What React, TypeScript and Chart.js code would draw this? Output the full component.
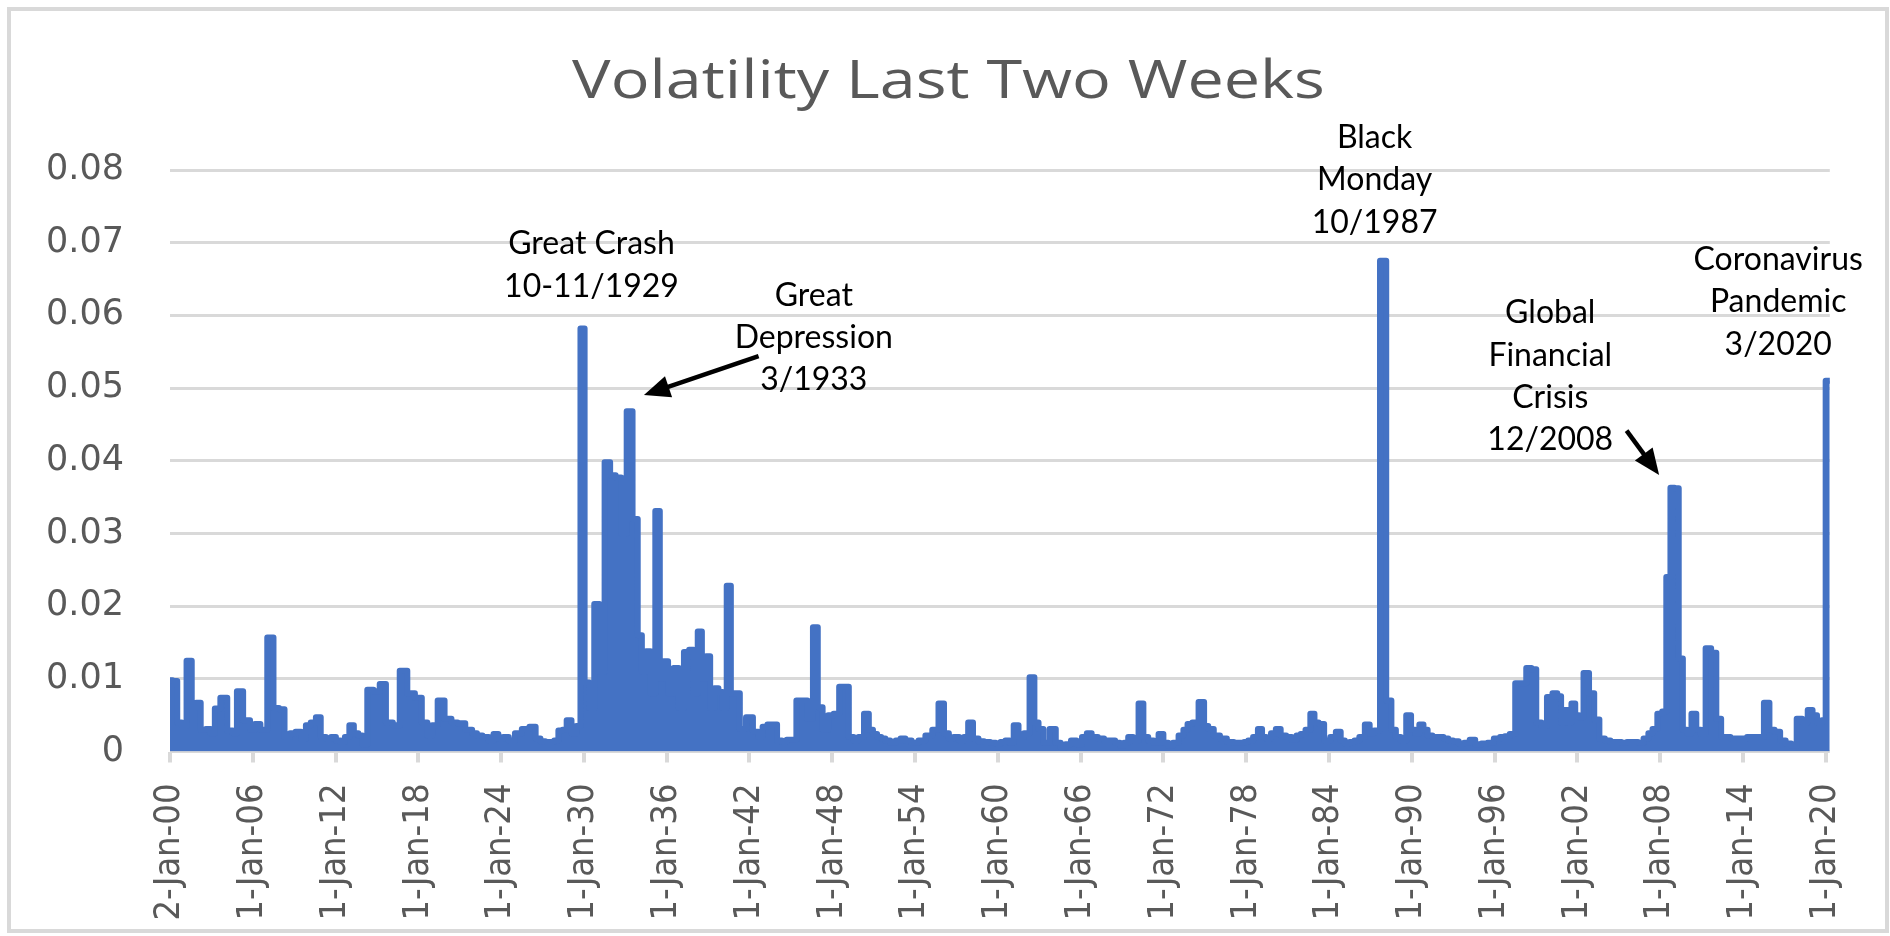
import { useEffect, useRef } from "react";
import { Chart, registerables } from "chart.js";

Chart.register(...registerables);

const TITLE = "Volatility Last Two Weeks";

const tickYears = [1900, 1906, 1912, 1918, 1924, 1930, 1936, 1942, 1948, 1954, 1960, 1966, 1972, 1978, 1984, 1990, 1996, 2002, 2008, 2014, 2020];
const tickLabels = ["2-Jan-00", "1-Jan-06", "1-Jan-12", "1-Jan-18", "1-Jan-24", "1-Jan-30", "1-Jan-36", "1-Jan-42", "1-Jan-48", "1-Jan-54", "1-Jan-60", "1-Jan-66", "1-Jan-72", "1-Jan-78", "1-Jan-84", "1-Jan-90", "1-Jan-96", "1-Jan-02", "1-Jan-08", "1-Jan-14", "1-Jan-20"];

// decimal year of each reading
const dates = [
  1900.0, 1900.35, 1900.7, 1901.0, 1901.4, 1901.75, 1902.05, 1902.4, 1902.8, 1903.1,
  1903.4, 1903.9, 1904.4, 1904.7, 1905.0, 1905.6, 1906.0, 1906.3, 1906.8, 1907.3,
  1907.7, 1908.1, 1908.5, 1908.9, 1909.3, 1909.7, 1910.0, 1910.4, 1910.75, 1911.1,
  1911.5, 1911.85, 1912.2, 1912.5, 1912.85, 1913.15, 1913.5, 1913.8, 1914.1, 1914.5,
  1915.0, 1915.4, 1915.9, 1916.4, 1916.9, 1917.5, 1918.0, 1918.5, 1918.8, 1919.2,
  1919.6, 1920.2, 1920.6, 1921.1, 1921.7, 1922.1, 1922.4, 1922.9, 1923.3, 1923.6,
  1924.0, 1924.3, 1924.8, 1925.2, 1925.8, 1926.3, 1926.7, 1927.0, 1927.4, 1927.7,
  1928.0, 1928.3, 1928.6, 1928.9, 1929.3, 1929.6, 1929.9, 1930.2, 1930.55, 1930.95,
  1931.3, 1931.7, 1932.1, 1932.5, 1932.9, 1933.3, 1933.75, 1934.05, 1934.35, 1934.65,
  1935.0, 1935.35, 1935.65, 1935.9, 1936.3, 1936.7, 1937.05, 1937.45, 1937.8, 1938.1,
  1938.4, 1938.7, 1939.0, 1939.3, 1939.6, 1939.9, 1940.2, 1940.5, 1940.8, 1941.1,
  1941.5, 1942.0, 1942.5, 1942.8, 1943.1, 1943.5, 1943.8, 1944.2, 1944.5, 1944.9,
  1945.2, 1945.6, 1946.0, 1946.4, 1946.8, 1947.1, 1947.5, 1947.9, 1948.3, 1948.7,
  1949.0, 1949.4, 1949.7, 1950.1, 1950.5, 1950.8, 1951.1, 1951.4, 1951.7, 1952.0,
  1952.4, 1952.8, 1953.1, 1953.5, 1954.0, 1954.5, 1955.0, 1955.5, 1955.9, 1956.3,
  1956.6, 1957.0, 1957.4, 1957.7, 1958.0, 1958.4, 1958.8, 1959.2, 1959.7, 1960.0,
  1960.4, 1960.7, 1961.0, 1961.3, 1961.7, 1962.1, 1962.5, 1962.8, 1963.1, 1963.5,
  1964.0, 1964.4, 1964.7, 1965.1, 1965.5, 1965.9, 1966.3, 1966.6, 1967.0, 1967.5,
  1967.9, 1968.3, 1968.7, 1969.0, 1969.3, 1969.6, 1970.0, 1970.4, 1970.7, 1971.1,
  1971.5, 1971.8, 1972.2, 1972.5, 1972.9, 1973.3, 1973.6, 1973.9, 1974.3, 1974.8,
  1975.1, 1975.4, 1975.9, 1976.3, 1976.9, 1977.3, 1977.7, 1978.0, 1978.3, 1978.7,
  1979.0, 1979.3, 1979.6, 1980.0, 1980.3, 1980.7, 1981.1, 1981.5, 1981.8, 1982.1,
  1982.5, 1982.8, 1983.1, 1983.4, 1983.9, 1984.3, 1984.7, 1985.0, 1985.3, 1985.7,
  1986.0, 1986.4, 1986.8, 1987.1, 1987.45, 1987.95, 1988.35, 1988.7, 1989.0, 1989.4,
  1989.8, 1990.1, 1990.4, 1990.7, 1991.0, 1991.3, 1991.7, 1992.1, 1992.5, 1992.8,
  1993.2, 1993.6, 1994.0, 1994.4, 1994.8, 1995.3, 1995.7, 1996.2, 1996.6, 1996.9,
  1997.3, 1997.7, 1998.1, 1998.5, 1998.85, 1999.2, 1999.6, 2000.0, 2000.4, 2000.7,
  2000.95, 2001.2, 2001.45, 2001.7, 2002.0, 2002.25, 2002.65, 2003.05, 2003.4, 2003.8,
  2004.2, 2004.6, 2005.0, 2005.4, 2005.8, 2006.2, 2006.6, 2007.0, 2007.3, 2007.6,
  2008.0, 2008.3, 2008.6, 2008.9, 2009.2, 2009.5, 2009.8, 2010.1, 2010.45, 2010.8,
  2011.1, 2011.5, 2011.9, 2012.25, 2012.6, 2012.9, 2013.3, 2013.7, 2014.1, 2014.5,
  2014.9, 2015.3, 2015.75, 2016.1, 2016.5, 2016.9, 2017.3, 2017.7, 2018.1, 2018.5,
  2018.9, 2019.2, 2019.55, 2019.9, 2020.1, 2020.3,
];

const volatility = [
  0.0098, 0.0097, 0.0040, 0.0035, 0.0125, 0.0060, 0.0067, 0.0030, 0.0031, 0.0025,
  0.0059, 0.0074, 0.0029, 0.0025, 0.0083, 0.0043, 0.0030, 0.0038, 0.0030, 0.0157,
  0.0060, 0.0058, 0.0020, 0.0025, 0.0027, 0.0018, 0.0036, 0.0040, 0.0047, 0.0020,
  0.0018, 0.0020, 0.0015, 0.0013, 0.0020, 0.0036, 0.0025, 0.0022, 0.0010, 0.0085,
  0.0083, 0.0093, 0.0040, 0.0036, 0.0111, 0.0080, 0.0074, 0.0040, 0.0022, 0.0036,
  0.0070, 0.0045, 0.0040, 0.0039, 0.0030, 0.0025, 0.0022, 0.0020, 0.0015, 0.0024,
  0.0018, 0.0020, 0.0015, 0.0025, 0.0031, 0.0034, 0.0018, 0.0014, 0.0013, 0.0013,
  0.0015, 0.0029, 0.0030, 0.0043, 0.0025, 0.0035, 0.0582, 0.0095, 0.0060, 0.0203,
  0.0110, 0.0398, 0.0380, 0.0377, 0.0300, 0.0468, 0.0320, 0.0160, 0.0110, 0.0138,
  0.0080, 0.0331, 0.0100, 0.0124, 0.0080, 0.0115, 0.0060, 0.0137, 0.0140, 0.0080,
  0.0165, 0.0100, 0.0131, 0.0060, 0.0087, 0.0082, 0.0060, 0.0228, 0.0080, 0.0080,
  0.0031, 0.0047, 0.0027, 0.0020, 0.0034, 0.0037, 0.0037, 0.0015, 0.0013, 0.0016,
  0.0016, 0.0070, 0.0070, 0.0045, 0.0171, 0.0061, 0.0030, 0.0050, 0.0052, 0.0089,
  0.0089, 0.0020, 0.0015, 0.0020, 0.0052, 0.0030, 0.0024, 0.0020, 0.0018, 0.0015,
  0.0012, 0.0015, 0.0018, 0.0015, 0.0012, 0.0015, 0.0022, 0.0030, 0.0066, 0.0025,
  0.0018, 0.0020, 0.0015, 0.0020, 0.0040, 0.0018, 0.0014, 0.0013, 0.0012, 0.0011,
  0.0013, 0.0015, 0.0012, 0.0036, 0.0020, 0.0025, 0.0102, 0.0040, 0.0031, 0.0012,
  0.0031, 0.0012, 0.0006, 0.0010, 0.0015, 0.0010, 0.0020, 0.0025, 0.0020, 0.0018,
  0.0015, 0.0015, 0.0012, 0.0008, 0.0012, 0.0020, 0.0015, 0.0066, 0.0020, 0.0015,
  0.0012, 0.0024, 0.0012, 0.0008, 0.0012, 0.0022, 0.0030, 0.0038, 0.0040, 0.0068,
  0.0035, 0.0031, 0.0022, 0.0018, 0.0013, 0.0012, 0.0012, 0.0013, 0.0015, 0.0020,
  0.0031, 0.0020, 0.0018, 0.0025, 0.0031, 0.0022, 0.0020, 0.0016, 0.0022, 0.0024,
  0.0030, 0.0052, 0.0040, 0.0038, 0.0015, 0.0020, 0.0027, 0.0015, 0.0011, 0.0013,
  0.0015, 0.0020, 0.0037, 0.0025, 0.0029, 0.0675, 0.0070, 0.0030, 0.0020, 0.0015,
  0.0050, 0.0030, 0.0025, 0.0037, 0.0030, 0.0022, 0.0020, 0.0020, 0.0018, 0.0015,
  0.0014, 0.0011, 0.0012, 0.0016, 0.0010, 0.0011, 0.0012, 0.0018, 0.0020, 0.0021,
  0.0024, 0.0094, 0.0094, 0.0115, 0.0113, 0.0040, 0.0035, 0.0075, 0.0080, 0.0076,
  0.0040, 0.0057, 0.0040, 0.0066, 0.0050, 0.0047, 0.0108, 0.0080, 0.0044, 0.0018,
  0.0015, 0.0013, 0.0013, 0.0012, 0.0013, 0.0013, 0.0012, 0.0018, 0.0025, 0.0031,
  0.0052, 0.0055, 0.0240, 0.0363, 0.0362, 0.0128, 0.0030, 0.0025, 0.0052, 0.0030,
  0.0024, 0.0142, 0.0136, 0.0045, 0.0020, 0.0020, 0.0018, 0.0018, 0.0018, 0.0020,
  0.0020, 0.0020, 0.0067, 0.0030, 0.0027, 0.0015, 0.0011, 0.0008, 0.0045, 0.0040,
  0.0057, 0.0050, 0.0040, 0.0043, 0.0510, 0.0510,
];

// event labels, anchored in data units (x = year, y = value at first baseline)
const annotations = [
  { lines: ["Great Crash", "10-11/1929"], x: 1930.55, y: 0.06841 },
  { lines: ["Great", "Depression", "3/1933"], x: 1946.66, y: 0.06131 },
  { lines: ["Black", "Monday", "10/1987"], x: 1987.31, y: 0.08301 },
  { lines: ["Global", "Financial", "Crisis", "12/2008"], x: 2000.04, y: 0.05892 },
  { lines: ["Coronavirus", "Pandemic", "3/2020"], x: 2016.56, y: 0.06622 },
];

const arrows = [
  { from: [1942.66, 0.05441], to: [1934.35, 0.04903] },
  { from: [2005.57, 0.04415], to: [2007.93, 0.03804] },
];

const decorPlugin = {
  id: "decor",
  beforeDraw(chart: any) {
    const ctx = chart.ctx;
    ctx.save();
    ctx.fillStyle = "#ffffff";
    ctx.fillRect(0, 0, chart.width, chart.height);
    ctx.strokeStyle = "#d9d9d9";
    ctx.lineWidth = 4;
    ctx.strokeRect(9, 9, chart.width - 12, chart.height - 14);
    ctx.fillStyle = "#595959";
    ctx.font = "53px 'Open Sans', sans-serif";
    ctx.textAlign = "center";
    ctx.textBaseline = "alphabetic";
    ctx.translate(948.5, 98);
    ctx.scale(1.22, 1);
    ctx.fillText(TITLE, 0, 0);
    ctx.restore();
  },
  afterDraw(chart: any) {
    const { ctx } = chart;
    const xs = chart.scales.x;
    const ys = chart.scales.y;
    ctx.save();
    ctx.fillStyle = "#000000";
    ctx.strokeStyle = "#000000";
    ctx.font = "32px Lato, 'Open Sans', sans-serif";
    ctx.textAlign = "center";
    ctx.textBaseline = "alphabetic";
    for (const a of annotations) {
      const px = xs.getPixelForValue(a.x);
      const py = ys.getPixelForValue(a.y);
      a.lines.forEach((t, i) => ctx.fillText(t, px, py + i * 42.3));
    }
    for (const ar of arrows) {
      const x1 = xs.getPixelForValue(ar.from[0]);
      const y1 = ys.getPixelForValue(ar.from[1]);
      const x2 = xs.getPixelForValue(ar.to[0]);
      const y2 = ys.getPixelForValue(ar.to[1]);
      const ang = Math.atan2(y2 - y1, x2 - x1);
      const c = Math.cos(ang);
      const s = Math.sin(ang);
      const headLen = 26;
      const headW = 11;
      const bx = x2 - headLen * c;
      const by = y2 - headLen * s;
      ctx.lineWidth = 4.5;
      ctx.beginPath();
      ctx.moveTo(x1, y1);
      ctx.lineTo(bx + c * 2, by + s * 2);
      ctx.stroke();
      ctx.beginPath();
      ctx.moveTo(x2, y2);
      ctx.lineTo(bx + headW * s, by - headW * c);
      ctx.lineTo(bx - headW * s, by + headW * c);
      ctx.closePath();
      ctx.fill();
    }
    ctx.restore();
  },
};

export default function App() {
  const ref = useRef<HTMLCanvasElement | null>(null);
  useEffect(() => {
    if (!ref.current) return;
    const chart = new Chart(ref.current, {
      type: "line",
      data: {
        datasets: [
          {
            data: dates.map((d, i) => ({ x: d, y: volatility[i] })),
            borderColor: "#4472C4",
            backgroundColor: "#4472C4",
            borderWidth: 6,
            fill: "origin",
            stepped: "middle",
            pointRadius: 0,
            borderJoinStyle: "round",
            borderCapStyle: "round",
            clip: { left: 0, top: false, right: 0, bottom: 0 },
          } as any,
        ],
      },
      options: {
        responsive: false,
        animation: false,
        devicePixelRatio: 1,
        layout: { padding: { left: 0, right: 56, top: 170, bottom: 14.5 } },
        plugins: {
          legend: { display: false },
          title: { display: false },
          tooltip: { enabled: false },
        },
        scales: {
          x: {
            type: "linear",
            min: 1900,
            max: 2020.3,
            afterBuildTicks: (s: any) => {
              s.ticks = tickYears.map((v) => ({ value: v }));
            },
            afterFit: (s: any) => {
              s.height = 170;
            },
            ticks: {
              autoSkip: false,
              minRotation: 90,
              maxRotation: 90,
              padding: 21,
              color: "#595959",
              font: { family: "'DejaVu Sans Condensed', 'Liberation Sans', sans-serif", size: 36 },
              callback: (_v: any, i: number) => tickLabels[i],
            },
            grid: {
              drawOnChartArea: false,
              drawTicks: true,
              tickLength: 11,
              color: "#d9d9d9",
              lineWidth: 4,
            },
            border: { display: false },
          },
          y: {
            min: 0,
            max: 0.08,
            afterFit: (s: any) => {
              s.width = 170;
            },
            ticks: {
              stepSize: 0.01,
              padding: 46,
              color: "#595959",
              font: { family: "'DejaVu Sans', sans-serif", size: 35 },
              callback: (v: any) => String(Number(Number(v).toFixed(2))),
            },
            grid: { color: "#d9d9d9", lineWidth: 3, drawTicks: false },
            border: { display: false },
          },
        },
      } as any,
      plugins: [decorPlugin],
    });
    return () => chart.destroy();
  }, []);
  return (
    <div style={{ position: "absolute", left: 0, top: 0, width: 1890, height: 936 }}>
      <canvas ref={ref} width={1890} height={936} style={{ display: "block" }} />
    </div>
  );
}
